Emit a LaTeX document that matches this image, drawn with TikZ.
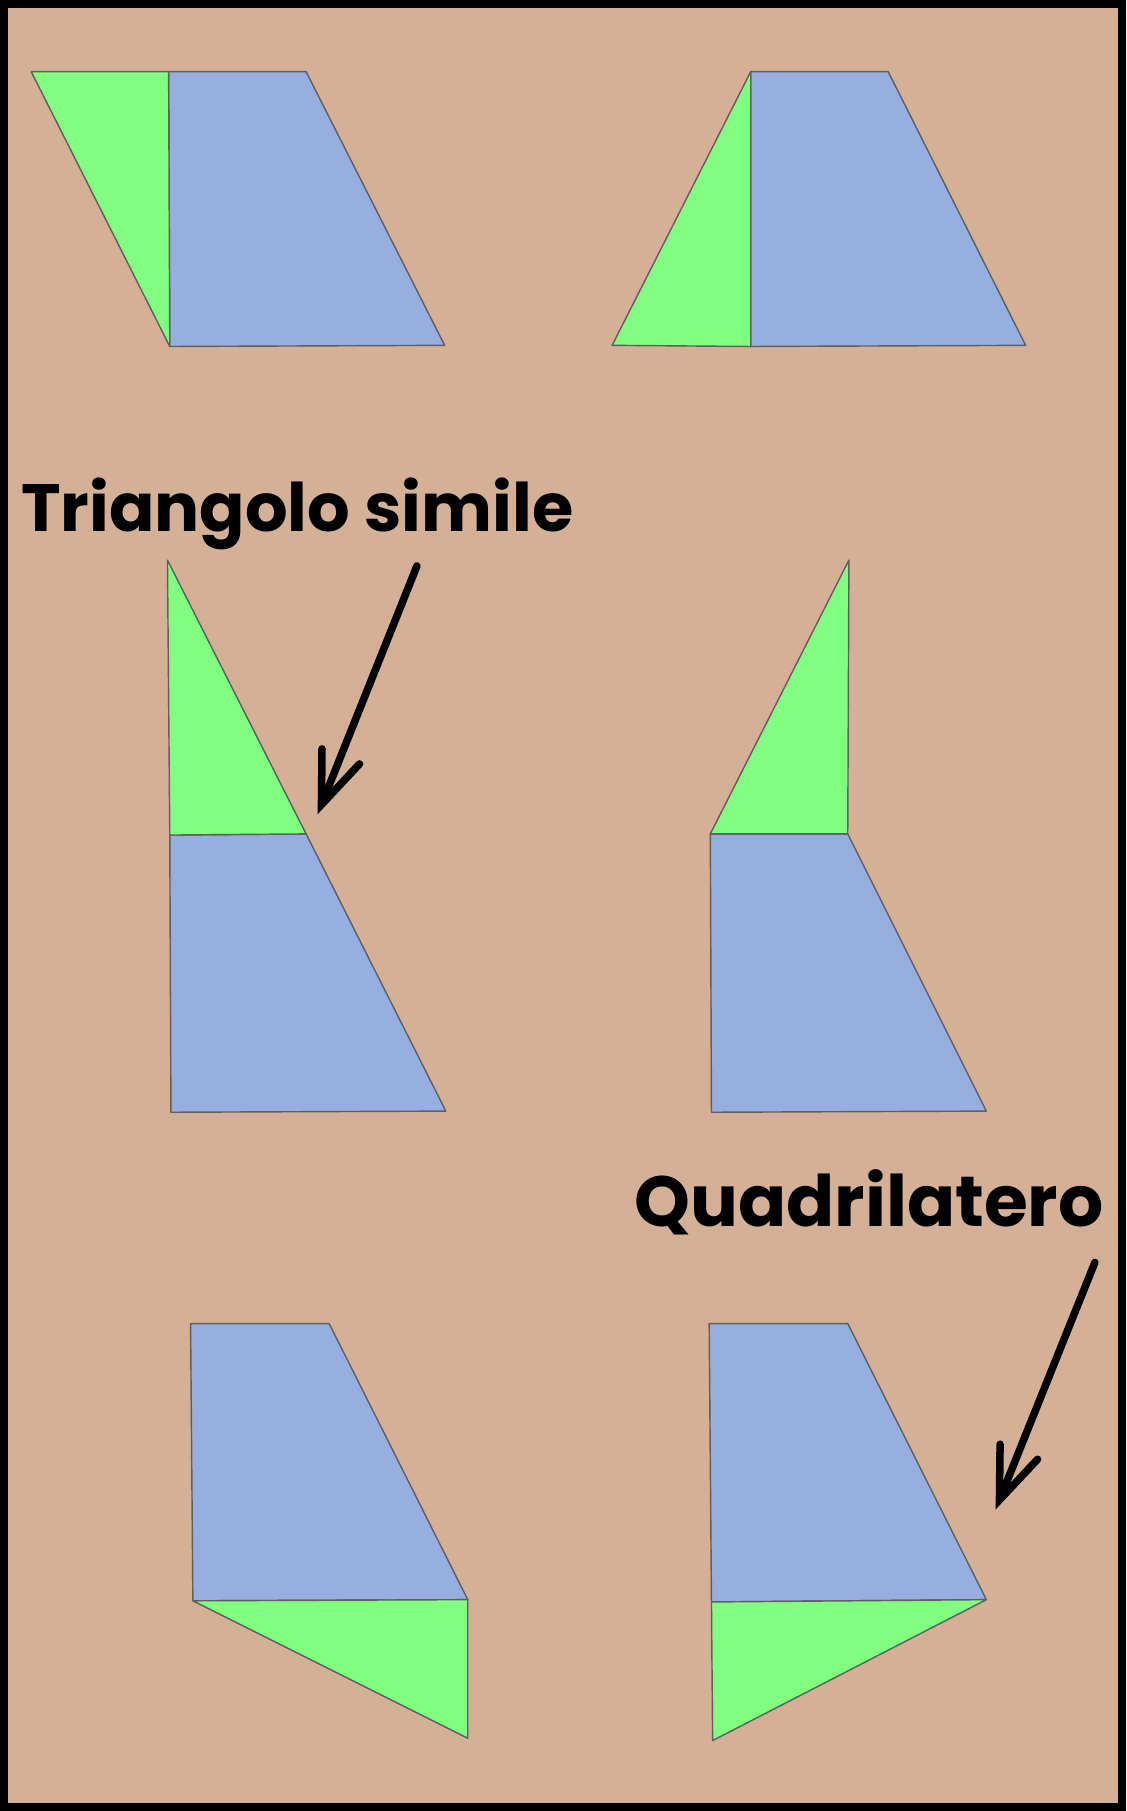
\documentclass[tikz,border=0pt]{standalone}
\usepackage{fontspec}
\newfontfamily\notefont{Poppins}
\usetikzlibrary{arrows.meta}
\definecolor{paper}{RGB}{212,176,150}
\definecolor{piecegreen}{RGB}{128,255,128}
\definecolor{pieceblue}{RGB}{151,174,224}
\definecolor{edgegray}{RGB}{95,95,95}

\begin{document}
\begin{tikzpicture}[x=0.02cm, y=-0.02cm,
  greenpiece/.style={fill=piecegreen, draw=edgegray, line width=0.7pt, line join=round},
  bluepiece/.style={fill=pieceblue, draw=edgegray, line width=0.7pt, line join=round},
  note/.style={font=\notefont\bfseries\fontsize{#1}{#1}\selectfont, inner sep=0pt},
  arrow/.style={-{Straight Barb[length=9mm, width=7mm, line cap=round]}, line width=1.3mm, line cap=round, line join=round}
]
\fill[black] (0,0) rectangle (975,1568);
\fill[paper] (7,7) rectangle (968,1561);
\draw[bluepiece] (146,62) -- (265,62) -- (385,299) -- (147,300) -- cycle;
\draw[greenpiece] (27,62) -- (146,62) -- (147,300) -- cycle;
\draw[bluepiece] (650,62) -- (769,62) -- (888,299) -- (650,300) -- cycle;
\draw[greenpiece] (530,299) -- (650,62) -- (650,300) -- cycle;
\draw[bluepiece] (147,723) -- (265,722) -- (386,962) -- (148,963) -- cycle;
\draw[greenpiece] (145,485) -- (265,722) -- (147,723) -- cycle;
\draw[bluepiece] (615,722) -- (734,722) -- (854,962) -- (616,963) -- cycle;
\draw[greenpiece] (735,485) -- (734,722) -- (615,722) -- cycle;
\draw[bluepiece] (165,1146) -- (285,1146) -- (405,1385) -- (167,1386) -- cycle;
\draw[greenpiece] (167,1386) -- (405,1385) -- (405,1505) -- cycle;
\draw[bluepiece] (614,1146) -- (734,1146) -- (854,1385) -- (616,1387) -- cycle;
\draw[greenpiece] (616,1387) -- (854,1385) -- (617,1507) -- cycle;
\node[note=33, anchor=base west] (simile) at (18,460) {Triangolo simile};
\node[note=35, anchor=base west] (quadri) at (549,1062) {Quadrilatero};
\coordinate (simile tail) at (361,490);
\coordinate (simile tip) at (275,705);
\coordinate (quadri tail) at (948,1093);
\coordinate (quadri tip) at (862,1307);
\draw[arrow] (simile tail) -- (simile tip);
\draw[arrow] (quadri tail) -- (quadri tip);
\end{tikzpicture}
\end{document}
